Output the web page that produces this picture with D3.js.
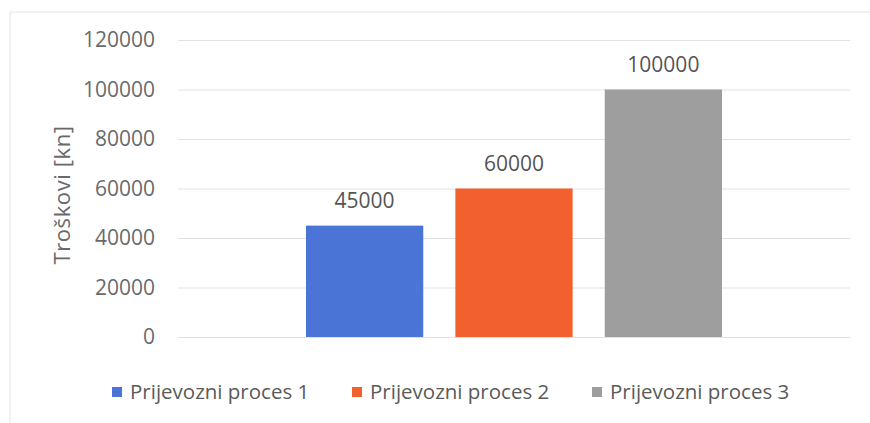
<!DOCTYPE html>
<html><head><meta charset="utf-8">
<script src="https://cdn.jsdelivr.net/npm/d3@7"></script>
<style>
body{margin:0;background:#fff;}
svg{display:block;font-family:"Open Sans",sans-serif;}
</style></head>
<body>
<svg id="c" width="870" height="423"></svg>
<script>
const categories = ["Prijevozni proces 1","Prijevozni proces 2","Prijevozni proces 3"];
const values = [45000, 60000, 100000];
const colors = ["#4a74d6","#f2602e","#9e9e9e"];
const yTicks = [0,20000,40000,60000,80000,100000,120000];
const yTitle = "Troškovi [kn]";

const svg = d3.select("#c");
// faint frame
svg.append("line").attr("x1",10).attr("x2",870).attr("y1",12).attr("y2",12).attr("stroke","#e4e4e4");
svg.append("line").attr("x1",10).attr("x2",10).attr("y1",12).attr("y2",423).attr("stroke","#e4e4e4");

const pL=178, pR=850, pT=40, pB=337;
const y = d3.scaleLinear().domain([0,120000]).range([pB,pT]);
const groupW = 416;
const cx = (pL+pR)/2;
const x = d3.scaleBand().domain(categories).range([cx-groupW/2, cx+groupW/2]).paddingInner(0.215).paddingOuter(0);

const yAxis = d3.axisLeft(y).tickValues(yTicks).tickSize(-(pR-pL)).tickPadding(23).tickFormat(d3.format("d"));
const ga = svg.append("g").attr("transform",`translate(${pL},0)`).call(yAxis);
ga.select(".domain").remove();
ga.selectAll(".tick line").attr("stroke","#e2e2e2").attr("stroke-width",1);
ga.selectAll(".tick text").attr("fill","#6a6a6a").style("font-size","21px").style("font-family","'Open Sans',sans-serif");

svg.append("text").attr("transform",`translate(70,195) rotate(-90)`).attr("text-anchor","middle")
  .attr("fill","#6a6a6a").style("font-size","22px").style("letter-spacing","0.6px").text(yTitle);

svg.selectAll("rect.bar").data(categories).join("rect").attr("class","bar")
  .attr("x",d=>x(d)).attr("width",x.bandwidth())
  .attr("y",(d,i)=>y(values[i])).attr("height",(d,i)=>pB-y(values[i]))
  .attr("fill",(d,i)=>colors[i]);

svg.selectAll("text.lbl").data(categories).join("text").attr("class","lbl")
  .attr("x",d=>x(d)+x.bandwidth()/2).attr("y",(d,i)=>y(values[i])-18)
  .attr("text-anchor","middle").attr("fill","#555").style("font-size","21px")
  .text((d,i)=>values[i]);

const legX = [112,352,592];
const lg = svg.selectAll("g.leg").data(categories).join("g").attr("class","leg")
  .attr("transform",(d,i)=>`translate(${legX[i]},392)`);
lg.append("rect").attr("x",0).attr("y",-5).attr("width",10).attr("height",10).attr("fill",(d,i)=>colors[i]);
lg.append("text").attr("x",18).attr("y",7).attr("fill","#5a5a5a").style("font-size","20.5px").text(d=>d);
</script>
</body></html>
